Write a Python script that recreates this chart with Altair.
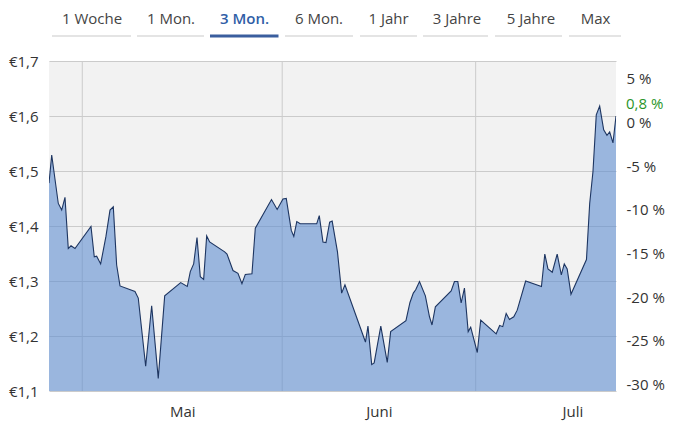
import altair as alt
import pandas as pd

# ---------------- data ----------------
# days since 2024-05-01 00:00 for every point of the price series
day_offset = [-5.16, -4.74, -3.72, -3.19, -2.68, -2.17, -1.75, -1.13, 1.35, 1.86,
              2.23, 2.85, 3.67, 4.30, 4.81, 5.33, 5.85, 8.17, 8.68, 9.83,
              10.76, 11.78, 12.78, 15.26, 16.28, 16.75, 17.27, 17.79, 18.30, 18.82,
              19.29, 19.75, 22.08, 22.44, 23.37, 24.14, 24.76, 25.28, 26.31, 26.83,
              29.34, 30.22, 31.12, 31.63, 32.41, 32.80, 33.26, 33.79, 36.35, 36.75,
              37.32, 37.79, 38.36, 38.75, 39.57, 40.22, 40.73, 43.91, 44.30, 44.88,
              45.26, 46.29, 47.29, 47.82, 50.19, 50.81, 51.33, 51.70, 52.29, 53.20,
              53.84, 54.23, 54.75, 57.20, 57.71, 58.23, 58.75, 59.26, 59.84, 60.23,
              61.25, 61.78, 64.18, 64.72, 65.20, 65.73, 66.24, 66.91, 67.44, 68.75,
              71.20, 71.72, 72.21, 72.88, 73.64, 74.28, 74.74, 75.19, 75.78, 78.18,
              78.68, 79.19, 79.70, 80.23, 80.85, 81.36, 81.78, 82.29, 82.76]
price = [1.478, 1.529, 1.441, 1.429, 1.452, 1.359, 1.364, 1.359, 1.399, 1.344,
         1.345, 1.331, 1.381, 1.429, 1.435, 1.329, 1.291, 1.281, 1.269, 1.145,
         1.255, 1.123, 1.273, 1.297, 1.290, 1.317, 1.331, 1.379, 1.308, 1.303,
         1.382, 1.371, 1.353, 1.349, 1.319, 1.314, 1.295, 1.312, 1.313, 1.396,
         1.448, 1.430, 1.449, 1.450, 1.392, 1.381, 1.408, 1.404, 1.404, 1.419,
         1.371, 1.370, 1.407, 1.409, 1.353, 1.278, 1.293, 1.189, 1.218, 1.148,
         1.151, 1.218, 1.152, 1.208, 1.228, 1.261, 1.278, 1.284, 1.299, 1.273,
         1.235, 1.220, 1.253, 1.282, 1.299, 1.299, 1.260, 1.287, 1.208, 1.216,
         1.170, 1.229, 1.204, 1.219, 1.217, 1.241, 1.230, 1.235, 1.247, 1.300,
         1.290, 1.349, 1.322, 1.316, 1.349, 1.311, 1.331, 1.322, 1.276, 1.339,
         1.441, 1.499, 1.602, 1.618, 1.575, 1.565, 1.571, 1.551, 1.600]
base_price = 1.588          # price that corresponds to 0 %
price_domain = [1.1, 1.7]
price_ticks = [1.1, 1.2, 1.3, 1.4, 1.5, 1.6, 1.7]
pct_ticks = [-30, -25, -20, -15, -10, -5, 0, 5]
month_starts = ["2024-05-01T00:00:00", "2024-06-01T00:00:00", "2024-07-01T00:00:00"]
month_label_days = [alt.DateTime(year=2024, month=5, date=16, hours=12),
                    alt.DateTime(year=2024, month=6, date=16),
                    alt.DateTime(year=2024, month=7, date=16)]
tab_labels = ["1 Woche", "1 Mon.", "3 Mon.", "6 Mon.", "1 Jahr", "3 Jahre", "5 Jahre", "Max"]
selected_tab = "3 Mon."

# ---------------- layout (pixels, relative to the plot area) ----------------
W, H = 567, 330
tab_center = [43, 122, 195.5, 270, 339.5, 408, 482, 546.5]
tab_x0 = [3, 88, 161, 236, 311, 374, 446, 520]
tab_x1 = [82, 155, 229.5, 304, 368, 439, 513, 572]

assert len(day_offset) == len(price)

origin = pd.Timestamp("2024-05-01T00:00:00")
df = pd.DataFrame({"date": origin + pd.to_timedelta(day_offset, unit="D"), "price": price})
df["pct"] = (df["price"] / base_price - 1) * 100
pct_domain = [(price_domain[0] / base_price - 1) * 100, (price_domain[1] / base_price - 1) * 100]

last = df.tail(1).copy()
last["label"] = last["pct"].map(lambda v: f"{v:.1f}".replace(".", ",") + " %")

months_df = pd.DataFrame({"date": pd.to_datetime(month_starts)})
tabs_df = pd.DataFrame({"label": tab_labels, "c": tab_center, "x0": tab_x0, "x1": tab_x1})
tabs_df["sel"] = tabs_df["label"] == selected_tab

FONT = "Open Sans"

x_enc = alt.X("date:T", title=None,
              scale=alt.Scale(nice=False),
              axis=alt.Axis(values=month_label_days, grid=False, ticks=False, tickSize=0,
                            domain=False, labelPadding=13, labelFontSize=15,
                            labelExpr="['Januar','Februar','März','April','Mai','Juni','Juli','August','September','Oktober','November','Dezember'][month(datum.value)]"))

y_price = alt.Y("price:Q", title=None,
                scale=alt.Scale(domain=price_domain, nice=False, zero=False),
                axis=alt.Axis(values=price_ticks, grid=True, gridColor="#cbcbcb", ticks=False,
                              tickSize=0, domain=False, labelPadding=11, labelFontSize=15,
                              labelExpr="'€' + replace(format(datum.value, '.1f'), '.', ',')"))

base = alt.Chart(df)

month_rules = alt.Chart(months_df).mark_rule(color="#cbcbcb", strokeWidth=1).encode(x="date:T")

area = base.mark_area(color="#5f8ed0", opacity=0.6, clip=True).encode(
    x=x_enc, y=y_price, y2=alt.datum(price_domain[0]))

line = base.mark_line(color="#1d3561", strokeWidth=1.1, clip=True).encode(x="date:T", y="price:Q")

price_layer = alt.layer(month_rules, area, line)

y_pct = alt.Y("pct:Q", title=None,
              scale=alt.Scale(domain=pct_domain, nice=False, zero=False),
              axis=alt.Axis(orient="right", values=pct_ticks, grid=False, ticks=False, tickSize=0,
                            domain=False, labelPadding=10, labelFontSize=15, labelAlign="left",
                            labelExpr="datum.value + ' %'"))

pct_ghost = base.mark_line(opacity=0).encode(x="date:T", y=y_pct)
pct_label = alt.Chart(last).mark_text(align="left", baseline="middle", dy=-12, fontSize=15,
                                      font=FONT, color="#2a952a").encode(
    x=alt.value(W + 10), y="pct:Q", text="label:N")
pct_layer = alt.layer(pct_ghost, pct_label)

tab_lines = alt.Chart(tabs_df).mark_rule().encode(
    x=alt.X("x0:Q", scale=None, axis=None),
    x2="x1:Q",
    y=alt.value(-25),
    color=alt.condition("datum.sel", alt.value("#3a5e9e"), alt.value("#c9c9c9")),
    strokeWidth=alt.condition("datum.sel", alt.value(3), alt.value(1)))
tab_text = alt.Chart(tabs_df).mark_text(fontSize=15, font=FONT, baseline="middle",
                                        color="#444444").encode(
    x=alt.X("c:Q", scale=None, axis=None), y=alt.value(-42.5), text="label:N"
).transform_filter("!datum.sel")
tab_text_sel = alt.Chart(tabs_df).mark_text(fontSize=15, font=FONT, baseline="middle",
                                            color="#2f5ea6", fontWeight=600).encode(
    x=alt.X("c:Q", scale=None, axis=None), y=alt.value(-42.5), text="label:N"
).transform_filter("datum.sel")

chart = alt.layer(price_layer, pct_layer, tab_lines, tab_text, tab_text_sel).resolve_scale(
    y="independent"
).properties(
    width=W, height=H,
    padding={"left": 41, "top": 53, "right": 56, "bottom": 30},
    autosize=alt.AutoSizeParams(type="none"),
    background="white",
).configure_view(fill="#f2f2f2", strokeWidth=0).configure_axis(
    labelFont=FONT, labelColor="#333333", labelFontSize=15
)

chart.save("out.html", embed_options={"renderer": "svg", "actions": False})
